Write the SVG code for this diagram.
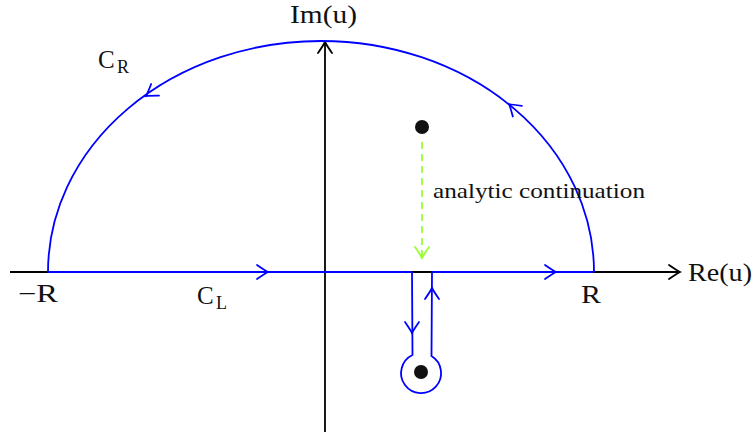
<svg xmlns="http://www.w3.org/2000/svg" width="755" height="435" viewBox="0 0 755 435">
<style>
.ax{stroke:#000;stroke-width:1.8;fill:none}
.bl{stroke:#0000ff;stroke-width:1.8;fill:none}
.gr{stroke:#99ff33;stroke-width:1.8;fill:none;stroke-dasharray:7 5}
.tb{stroke:#0000ff;stroke-width:1.8;fill:none;stroke-linecap:round}
.tk{stroke:#000;stroke-width:1.8;fill:none;stroke-linecap:round}
.tg{stroke:#99ff33;stroke-width:1.8;fill:none;stroke-linecap:round}
text{font-family:"Liberation Serif","DejaVu Serif",serif;fill:#111}
.lb{font-size:25px}
.sub{font-size:18px}
.sm{font-size:22px}
</style>
<defs>
<path id="tip" d="M-11,-7 Q-3,-1.5 0,0 Q-3,1.5 -11,7"/>
</defs>
<g id="axes">
<line class="ax" x1="10" y1="272" x2="680" y2="272"/>
<line class="ax" x1="325" y1="432" x2="325" y2="42"/>
<use href="#tip" class="tk" transform="translate(680,272)"/>
<use href="#tip" class="tk" transform="translate(325,42) rotate(-90)"/>
</g>
<g id="contour">
<path class="bl" d="M594,272 A273,231 0 0 0 48,272"/>
<line class="bl" x1="48" y1="272" x2="412" y2="272"/>
<line class="bl" x1="432" y1="272" x2="594" y2="272"/>
<path class="bl" d="M412,272 L412.5,355 A20,20 0 1 0 431.5,356 L432,272"/>
<use href="#tip" class="tb" transform="translate(268,272)"/>
<use href="#tip" class="tb" transform="translate(556,272)"/>
<use href="#tip" class="tb" transform="translate(146,96) rotate(145.8)"/>
<use href="#tip" class="tb" transform="translate(509,104) rotate(-139.5)"/>
<use href="#tip" class="tb" transform="translate(412,333) rotate(90)"/>
<use href="#tip" class="tb" transform="translate(432,288) rotate(-90)"/>
</g>
<g id="pole-upper">
<circle cx="422" cy="127" r="7" fill="#111"/>
</g>
<g id="pole-lower">
<circle cx="421" cy="372" r="7" fill="#111"/>
</g>
<g id="continuation">
<line class="gr" x1="422" y1="142" x2="422" y2="257"/>
<use href="#tip" class="tg" transform="translate(422,258) rotate(90)"/>
</g>
<g id="labels">
<text class="lb" x="290" y="23" textLength="67" lengthAdjust="spacingAndGlyphs">Im(u)</text>
<text class="lb" x="688" y="281" textLength="64" lengthAdjust="spacingAndGlyphs">Re(u)</text>
<text class="lb" x="18" y="302" textLength="40" lengthAdjust="spacingAndGlyphs">−R</text>
<text class="lb" x="581" y="303" textLength="20" lengthAdjust="spacingAndGlyphs">R</text>
<text class="lb" x="98" y="68">C</text>
<text class="sub" x="117" y="73">R</text>
<text class="lb" x="197" y="304">C</text>
<text class="sub" x="216" y="309">L</text>
<text class="sm" x="433" y="198" textLength="212" lengthAdjust="spacingAndGlyphs">analytic continuation</text>
</g>
</svg>
